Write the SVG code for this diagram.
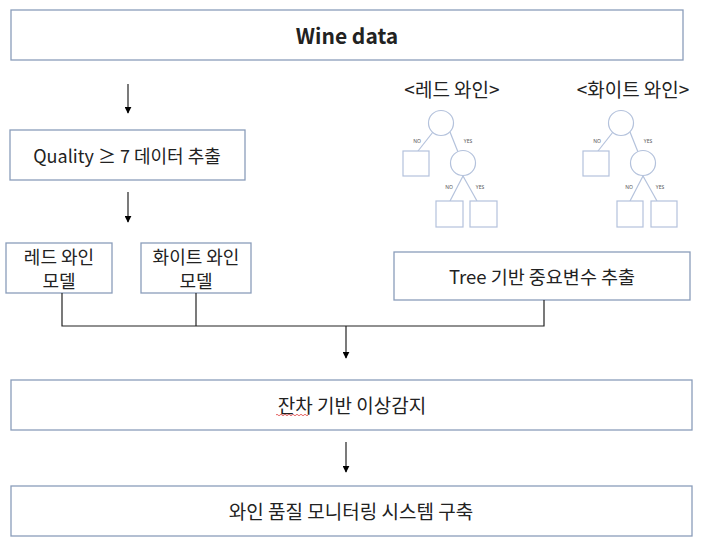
<svg xmlns="http://www.w3.org/2000/svg" width="703" height="544" viewBox="0 0 703 544">
<defs>
<marker id="ah" viewBox="0 0 10 10" refX="9" refY="5" markerWidth="7" markerHeight="7" markerUnits="userSpaceOnUse" orient="auto">
<path d="M0,0 L10,5 L0,10 z" fill="#000"/>
</marker>
<style>
.box{fill:#fff;stroke:#8a9dbb;stroke-width:1.3}
.t{font-family:"Noto Sans CJK KR","Noto Sans",sans-serif;font-size:19px;fill:#222;text-anchor:middle;dominant-baseline:central}
.m{font-size:18px}
.conn{fill:none;stroke:#222;stroke-width:1.2}
.tr{fill:#fff;stroke:#b4c2dc;stroke-width:1.2}
.lbl{font-family:"Noto Sans",sans-serif;font-size:5px;fill:#555;text-anchor:middle}
</style>
</defs>
<rect width="703" height="544" fill="#fff"/>

<g id="wine-data">
<rect class="box" x="11" y="10" width="672" height="50"/>
<text class="t" x="347" y="35" style="font-weight:bold;font-size:21px">Wine data</text>
</g>

<g id="quality">
<rect class="box" x="10" y="130" width="235" height="50"/>
<text class="t" x="127" y="155" style="font-size:18px">Quality ≥ 7 데이터 추출</text>
</g>

<g id="red-model">
<rect class="box" x="6" y="243" width="106" height="50"/>
<text class="t m" x="59" y="256">레드 와인</text>
<text class="t m" x="59" y="280">모델</text>
</g>

<g id="white-model">
<rect class="box" x="141" y="243" width="110" height="50"/>
<text class="t m" x="196" y="256">화이트 와인</text>
<text class="t m" x="196" y="280">모델</text>
</g>

<g id="tree-extract">
<rect class="box" x="394" y="252" width="296" height="48"/>
<text class="t" x="542" y="276" style="font-size:18.5px">Tree 기반 중요변수 추출</text>
</g>

<g id="residual">
<rect class="box" x="11" y="380" width="681" height="50"/>
<text class="t" x="352" y="404">잔차 기반 이상감지</text>
<path d="M276,415 q1,-1.5 2,0 t2,0 t2,0 t2,0 t2,0 t2,0 t2,0 t2,0 t2,0 t2,0 t2,0 t2,0 t2,0 t2,0 t2,0 t2,0" fill="none" stroke="#e04040" stroke-width="0.8"/>
</g>

<g id="monitoring">
<rect class="box" x="11" y="486" width="681" height="50"/>
<text class="t" x="351" y="510">와인 품질 모니터링 시스템 구축</text>
</g>

<g id="red-tree">
<text class="t" x="452" y="88">&lt;레드 와인&gt;</text>
<line class="tr" x1="433" y1="132" x2="418" y2="151"/>
<line class="tr" x1="450" y1="132" x2="458" y2="152"/>
<line class="tr" x1="463" y1="176" x2="450" y2="201"/>
<line class="tr" x1="463" y1="176" x2="477" y2="201"/>
<circle class="tr" cx="441" cy="123" r="12.5"/>
<circle class="tr" cx="463" cy="163" r="12.5"/>
<rect class="tr" x="403" y="151" width="26" height="25"/>
<rect class="tr" x="436" y="201" width="27" height="26"/>
<rect class="tr" x="470" y="201" width="27" height="26"/>
<text class="lbl" x="417" y="143">NO</text>
<text class="lbl" x="468" y="143">YES</text>
<text class="lbl" x="449" y="189">NO</text>
<text class="lbl" x="480" y="189">YES</text>
</g>

<g id="white-tree">
<text class="t" x="633" y="88">&lt;화이트 와인&gt;</text>
<line class="tr" x1="613" y1="132" x2="598" y2="151"/>
<line class="tr" x1="630" y1="132" x2="638" y2="152"/>
<line class="tr" x1="643" y1="176" x2="630" y2="201"/>
<line class="tr" x1="643" y1="176" x2="657" y2="201"/>
<circle class="tr" cx="621" cy="123" r="12.5"/>
<circle class="tr" cx="643" cy="163" r="12.5"/>
<rect class="tr" x="583" y="151" width="26" height="25"/>
<rect class="tr" x="617" y="201" width="26" height="26"/>
<rect class="tr" x="651" y="201" width="26" height="26"/>
<text class="lbl" x="597" y="143">NO</text>
<text class="lbl" x="648" y="143">YES</text>
<text class="lbl" x="629" y="189">NO</text>
<text class="lbl" x="660" y="189">YES</text>
</g>

<g id="connectors">
<line class="conn" x1="128" y1="84" x2="128" y2="113" marker-end="url(#ah)"/>
<line class="conn" x1="128" y1="192" x2="128" y2="222" marker-end="url(#ah)"/>
<polyline class="conn" points="62,293 62,326 544,326 544,300"/>
<line class="conn" x1="196" y1="293" x2="196" y2="326"/>
<line class="conn" x1="346" y1="326" x2="346" y2="358" marker-end="url(#ah)"/>
<line class="conn" x1="346" y1="442" x2="346" y2="472" marker-end="url(#ah)"/>
</g>
</svg>
